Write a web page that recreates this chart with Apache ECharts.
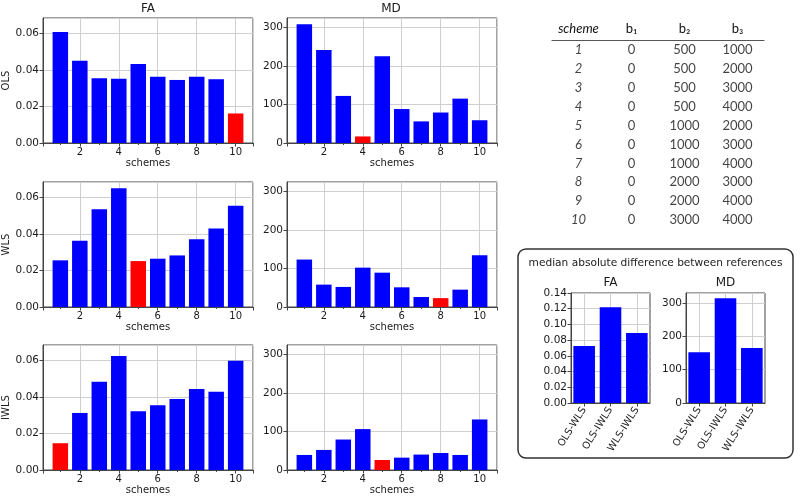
<!DOCTYPE html>
<html>
<head>
<meta charset="utf-8">
<script src="https://cdn.jsdelivr.net/npm/echarts@6/dist/echarts.min.js"></script>
<style>
  html, body { margin: 0; padding: 0; background: #fff; }
  #chart { width: 800px; height: 500px; }
</style>
</head>
<body>
<div id="chart"></div>
<script>
  // values
  var schemes = [1, 2, 3, 4, 5, 6, 7, 8, 9, 10];
  var methods = ['OLS', 'WLS', 'IWLS'];

  var faOLS  = [0.0609, 0.0451, 0.0355, 0.0353, 0.0434, 0.0364, 0.0346, 0.0363, 0.0350, 0.0162];
  var faWLS  = [0.0256, 0.0364, 0.0536, 0.0652, 0.0252, 0.0265, 0.0283, 0.0372, 0.0431, 0.0556];
  var faIWLS = [0.0147, 0.0313, 0.0484, 0.0626, 0.0322, 0.0355, 0.0390, 0.0445, 0.0429, 0.0600];

  var mdOLS  = [308, 241, 122, 17, 225, 88, 56, 79, 115, 59];
  var mdWLS  = [123, 58, 52, 102, 89, 51, 26, 23, 45, 134];
  var mdIWLS = [39, 52, 79, 106, 26, 32, 40, 44, 39, 131];

  // scheme drawn in red in each row (OLS, WLS, IWLS)
  var bestFA = [10, 5, 1];
  var bestMD = [4, 8, 5];

  var pairs = ['OLS-WLS', 'OLS-IWLS', 'WLS-IWLS'];
  var madFA = [0.0727, 0.1218, 0.0892];
  var madMD = [152, 314, 165];

  var tableHead = ['scheme', 'b\u2081', 'b\u2082', 'b\u2083'];
  var colB1 = [0, 0, 0, 0, 0, 0, 0, 0, 0, 0];
  var colB2 = [500, 500, 500, 500, 1000, 1000, 1000, 2000, 2000, 3000];
  var colB3 = [1000, 2000, 3000, 4000, 2000, 3000, 4000, 3000, 4000, 4000];

  var myChart = echarts.init(document.getElementById('chart'));

  var font = 'DejaVu Sans';
  var txt = '#1a1a1a';
  var gridCol = '#cfcfcf';
  var frameCol = '#444';

  var faRows = [faOLS, faWLS, faIWLS];
  var mdRows = [mdOLS, mdWLS, mdIWLS];
  var colLeft = [43, 287];
  var rowTop = [18, 182, 345];

  var grids = [], xAxes = [], yAxes = [], series = [];

  function barData(vals, best) {
    return vals.map(function (v, i) {
      return {
        value: [schemes[i], v],
        itemStyle: { color: schemes[i] === best ? '#ff0000' : '#0000ff' }
      };
    });
  }

  for (var r = 0; r < 3; r++) {
    for (var c = 0; c < 2; c++) {
      var idx = grids.length;
      var isFA = c === 0;
      grids.push({
        left: colLeft[c], top: rowTop[r], width: 210, height: 125,
        show: true, borderColor: frameCol, borderWidth: 1, backgroundColor: 'transparent'
      });
      xAxes.push({
        gridIndex: idx, type: 'value', min: 0.11, max: 10.89, splitNumber: 5,
        name: 'schemes', nameLocation: 'middle', nameGap: 15,
        nameTextStyle: { fontFamily: font, fontSize: 10, color: txt },
        axisLine: { show: true, lineStyle: { color: frameCol } },
        axisTick: { show: true, length: 3.5, lineStyle: { color: frameCol } },
        minorTick: { show: true, splitNumber: 2, length: 2, lineStyle: { color: frameCol } },
        axisLabel: { fontFamily: font, fontSize: 10, color: txt, margin: 4, showMinLabel: false, showMaxLabel: false },
        splitLine: { show: true, lineStyle: { color: gridCol, width: 1 } }
      });
      yAxes.push({
        gridIndex: idx, type: 'value', min: 0,
        max: isFA ? 0.0686 : 324, interval: isFA ? 0.02 : 100,
        name: isFA ? methods[r] : '', nameLocation: 'middle', nameGap: 27,
        nameTextStyle: { fontFamily: font, fontSize: 10, color: txt },
        axisLine: { show: true, lineStyle: { color: frameCol } },
        axisTick: { show: true, length: 3.5, lineStyle: { color: frameCol } },
        axisLabel: {
          fontFamily: font, fontSize: 10.5, color: txt, margin: 4, showMaxLabel: false,
          formatter: isFA ? function (v) { return v.toFixed(2); } : '{value}'
        },
        splitLine: { show: true, lineStyle: { color: gridCol, width: 1 } }
      });
      series.push({
        type: 'bar', xAxisIndex: idx, yAxisIndex: idx, barWidth: 15.5,
        data: barData(isFA ? faRows[r] : mdRows[r], isFA ? bestFA[r] : bestMD[r])
      });
    }
  }

  // summary panels (median absolute difference)
  var sumLeft = [571, 686];
  var sumVals = [madFA, madMD];
  for (var k = 0; k < 2; k++) {
    var gi = grids.length;
    var fa = k === 0;
    grids.push({
      left: sumLeft[k], top: 293, width: 79, height: 110,
      show: true, borderColor: frameCol, borderWidth: 1, backgroundColor: 'transparent'
    });
    xAxes.push({
      gridIndex: gi, type: 'category', data: pairs,
      axisLine: { show: true, lineStyle: { color: frameCol } },
      axisTick: { show: true, alignWithLabel: true, length: 3.5, lineStyle: { color: frameCol } },
      axisLabel: { fontFamily: font, fontSize: 10, color: txt, rotate: 58, interval: 0, margin: 5 },
      splitLine: { show: true, alignWithLabel: true, lineStyle: { color: gridCol } }
    });
    yAxes.push({
      gridIndex: gi, type: 'value', min: 0,
      max: fa ? 0.14 : 330, interval: fa ? 0.02 : 100,
      axisLine: { show: true, lineStyle: { color: frameCol } },
      axisTick: { show: true, length: 3.5, lineStyle: { color: frameCol } },
      axisLabel: {
        fontFamily: font, fontSize: 10.5, color: txt, margin: 4, showMaxLabel: fa,
        formatter: fa ? function (v) { return v.toFixed(2); } : '{value}'
      },
      splitLine: { show: true, lineStyle: { color: gridCol } }
    });
    series.push({
      type: 'bar', xAxisIndex: gi, yAxisIndex: gi, barCategoryGap: '18%',
      itemStyle: { color: '#0000ff' },
      data: sumVals[k]
    });
  }

  // scheme table, laid out on hidden category axes
  var ti = grids.length;
  grids.push({ left: 552, top: 40.5, width: 212, height: 189, show: false });
  xAxes.push({
    gridIndex: ti, type: 'category', position: 'top', data: tableHead,
    axisLine: { show: true, lineStyle: { color: '#555', width: 1.2 } },
    axisTick: { show: false },
    splitLine: { show: false },
    axisLabel: {
      margin: 5, interval: 0, fontFamily: 'Lato', fontSize: 13, color: '#111',
      formatter: function (v, i) { return i === 0 ? '{it|' + v + '}' : v; },
      rich: { it: { fontFamily: 'Lato', fontSize: 13, fontStyle: 'italic', color: '#111' } }
    }
  });
  yAxes.push({
    gridIndex: ti, type: 'category', inverse: true, show: false,
    data: schemes.map(String)
  });
  var schemeCells = [], valueCells = [];
  for (var q = 0; q < schemes.length; q++) {
    schemeCells.push([0, q, schemes[q]]);
    valueCells.push([1, q, colB1[q]], [2, q, colB2[q]], [3, q, colB3[q]]);
  }
  var cellLabel = function (italic) {
    return {
      show: true, position: 'inside', color: '#111', fontFamily: 'Lato', fontSize: 13,
      fontStyle: italic ? 'italic' : 'normal',
      formatter: function (p) { return String(p.value[2]); }
    };
  };
  series.push({
    type: 'scatter', xAxisIndex: ti, yAxisIndex: ti, symbolSize: 1,
    itemStyle: { color: 'rgba(0,0,0,0)' }, label: cellLabel(true), data: schemeCells
  });
  series.push({
    type: 'scatter', xAxisIndex: ti, yAxisIndex: ti, symbolSize: 1,
    itemStyle: { color: 'rgba(0,0,0,0)' }, label: cellLabel(false), data: valueCells
  });

  function label(x, y, text, size) {
    return {
      type: 'text', x: x, y: y, silent: true,
      style: { text: text, fontFamily: font, fontSize: size, fill: txt, align: 'center', verticalAlign: 'middle' }
    };
  }

  myChart.setOption({
    animation: false,
    backgroundColor: '#fff',
    grid: grids,
    xAxis: xAxes,
    yAxis: yAxes,
    series: series,
    graphic: [
      label(148, 9, 'FA', 12),
      label(391, 9, 'MD', 12),
      {
        type: 'rect', silent: true, z: -1,
        shape: { x: 518, y: 249, width: 275, height: 209, r: 8 },
        style: { fill: 'none', stroke: '#333', lineWidth: 1.5 }
      },
      label(655.5, 263, 'median absolute difference between references', 10.6),
      label(610.5, 283, 'FA', 12),
      label(725.5, 283, 'MD', 12)
    ]
  });
  window.onresize = myChart.resize;
</script>
</body>
</html>
